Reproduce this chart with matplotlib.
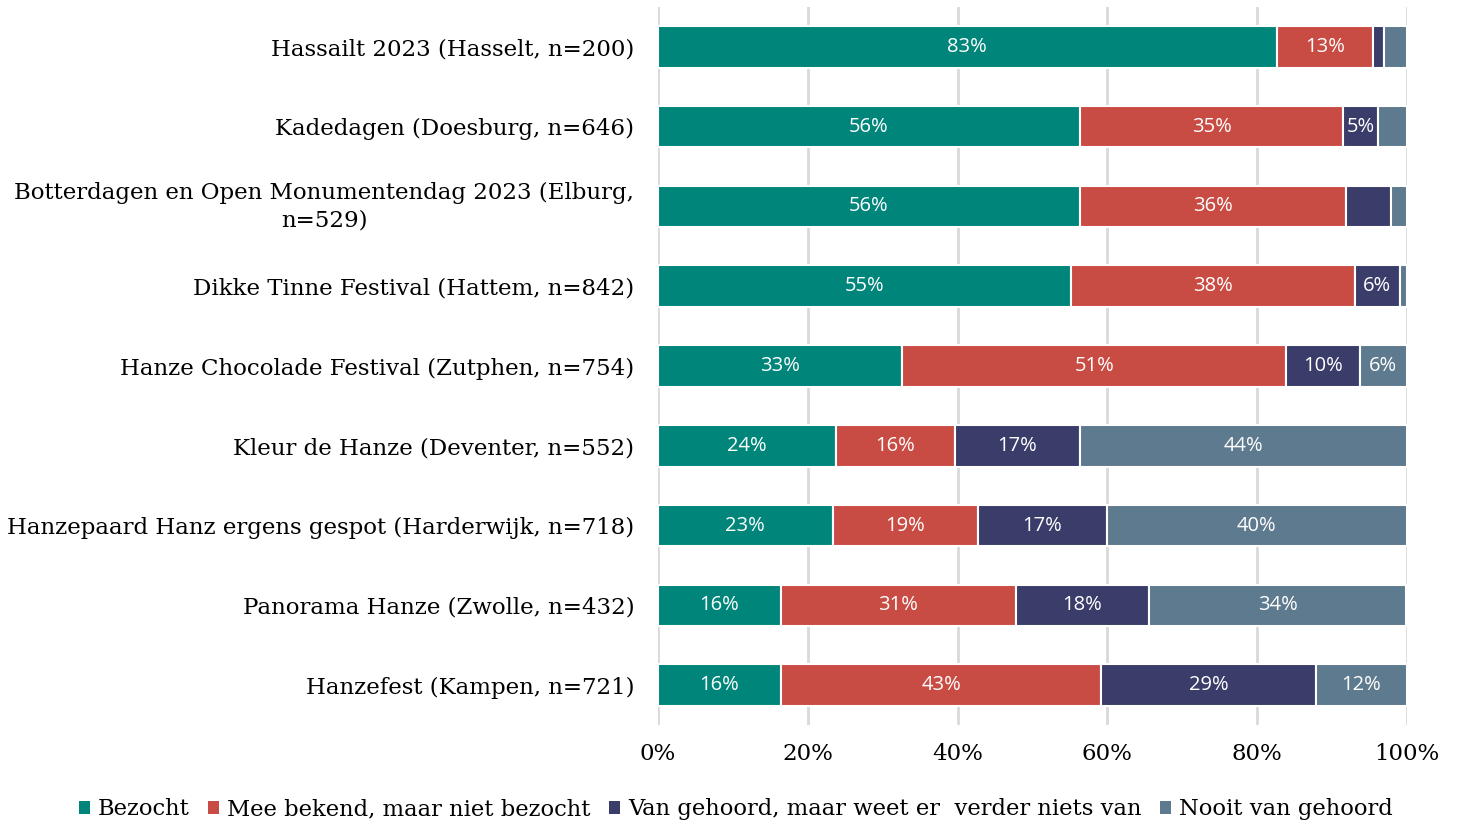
import matplotlib.pyplot as plt
from matplotlib.patches import Patch

# 数据（从图中读取的估计值，单位 %）
events = [
    "Hassailt 2023 (Hasselt, n=200)",
    "Kadedagen (Doesburg, n=646)",
    "Botterdagen en Open Monumentendag 2023 (Elburg,\nn=529)",
    "Dikke Tinne Festival (Hattem, n=842)",
    "Hanze Chocolade Festival (Zutphen, n=754)",
    "Kleur de Hanze (Deventer, n=552)",
    "Hanzepaard Hanz ergens gespot (Harderwijk, n=718)",
    "Panorama Hanze (Zwolle, n=432)",
    "Hanzefest (Kampen, n=721)",
]
bezocht = [82.6, 56.3, 56.3, 55.2, 32.6, 23.8, 23.3, 16.4, 16.4]
mee_bekend = [12.8, 35.2, 35.6, 37.8, 51.3, 15.8, 19.4, 31.4, 42.8]
van_gehoord = [1.5, 4.6, 5.9, 6.0, 9.8, 16.8, 17.2, 17.7, 28.6]
nooit = [3.1, 3.9, 2.2, 1.0, 6.3, 43.6, 40.1, 34.4, 12.2]

series_names = [
    "Bezocht",
    "Mee bekend, maar niet bezocht",
    "Van gehoord, maar weet er  verder niets van",
    "Nooit van gehoord",
]
colors = ["#00857A", "#C94C44", "#3A3C6A", "#5E7A8E"]

# 不显示数值标签的小块 (行, 系列)
hide_labels = [(2, 2)]

x_ticks = [0, 20, 40, 60, 80, 100]
x_tick_labels = ["0%", "20%", "40%", "60%", "80%", "100%"]

serif = "DejaVu Serif"

fig = plt.figure(figsize=(14.57, 8.25), dpi=100)
ax = fig.add_axes([0.4516, 0.1212, 0.5141, 0.8703])

all_series = [bezocht, mee_bekend, van_gehoord, nooit]
y = list(range(len(events)))
left = [0.0] * len(events)

for s, values in enumerate(all_series):
    ax.barh(y, values, left=left, height=0.52, color=colors[s],
            edgecolor="white", linewidth=1.5, zorder=3)
    for i, v in enumerate(values):
        if v >= 4 and (i, s) not in hide_labels:
            ax.text(left[i] + v / 2, i, f"{round(v)}%", ha="center", va="center",
                    color="white", fontsize=14.5, family="Open Sans", zorder=4)
        left[i] += v

ax.set_ylim(len(events) - 0.5, -0.5)
ax.set_xlim(0, 100)
ax.set_yticks(y)
ax.set_yticklabels(events, family=serif, fontsize=16.5, linespacing=1.3)
for lbl in ax.get_yticklabels():
    lbl.set_multialignment("center")
    if "\n" in lbl.get_text():
        lbl.set_verticalalignment("center")
ax.set_xticks(x_ticks)
ax.set_xticklabels(x_tick_labels, family=serif, fontsize=16.5)
ax.tick_params(axis="both", length=0)
ax.tick_params(axis="x", pad=13)
ax.tick_params(axis="y", pad=17)

ax.grid(axis="x", color="#D9D9D9", linewidth=2, zorder=0)
for side in ["top", "right", "bottom", "left"]:
    ax.spines[side].set_visible(False)

handles = [Patch(facecolor=c, edgecolor="none") for c in colors]
fig.legend(handles, series_names, loc="center", bbox_to_anchor=(0.505, 0.019),
           ncol=4, frameon=False, prop={"family": serif, "size": 16.3},
           handlelength=0.5, handleheight=0.5, handletextpad=0.35, columnspacing=0.8)

fig.savefig("out.png", dpi=100)
